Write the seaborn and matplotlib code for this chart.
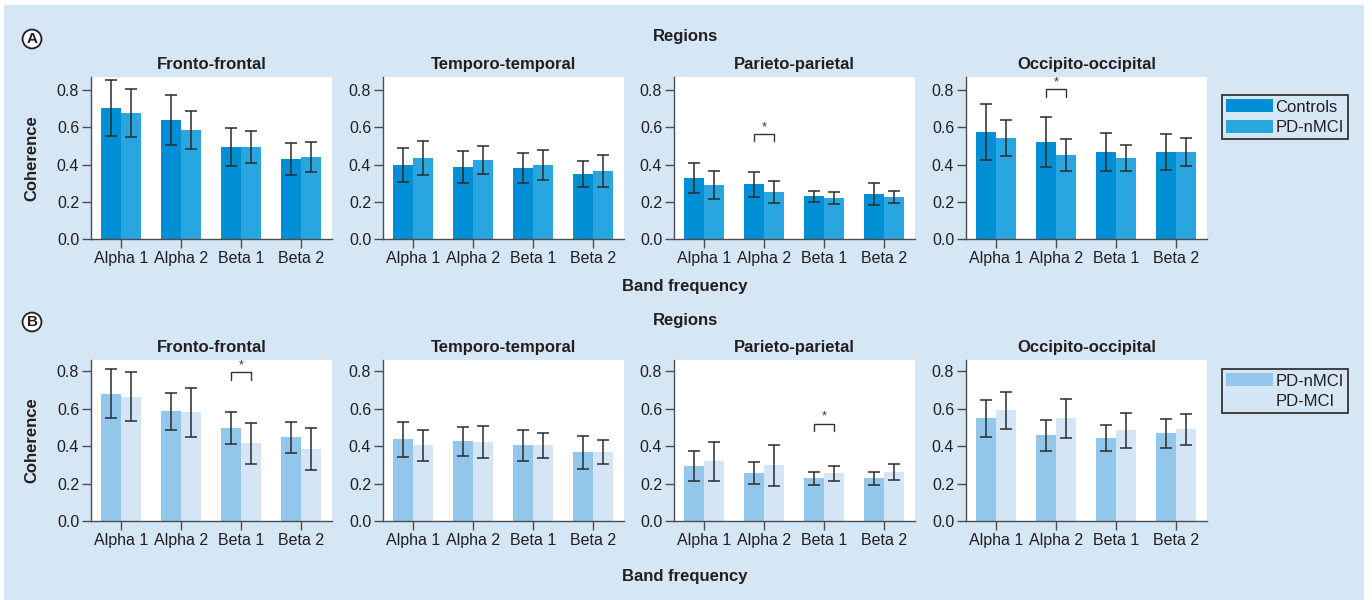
import matplotlib
matplotlib.use("Agg")
import matplotlib.pyplot as plt
from matplotlib.patches import Patch, Rectangle
import numpy as np
import pandas as pd
import seaborn as sns

# ---------------------------------------------------------------- data
bands = ["Alpha 1", "Alpha 2", "Beta 1", "Beta 2"]
regions = ["Fronto-frontal", "Temporo-temporal", "Parieto-parietal", "Occipito-occipital"]

# Panel A: Controls vs PD-nMCI (rows = regions, columns = bands)
a_groups = ["Controls", "PD-nMCI"]
a_controls_mean = [[0.703, 0.639, 0.494, 0.430],
                   [0.397, 0.387, 0.381, 0.349],
                   [0.328, 0.295, 0.229, 0.242],
                   [0.574, 0.521, 0.467, 0.467]]
a_controls_sd = [[0.152, 0.133, 0.102, 0.086],
                 [0.093, 0.085, 0.080, 0.072],
                 [0.082, 0.067, 0.030, 0.057],
                 [0.152, 0.133, 0.103, 0.098]]
a_nmci_mean = [[0.677, 0.585, 0.494, 0.440],
               [0.435, 0.424, 0.397, 0.365],
               [0.290, 0.252, 0.220, 0.226],
               [0.542, 0.451, 0.435, 0.467]]
a_nmci_sd = [[0.130, 0.100, 0.086, 0.082],
             [0.090, 0.075, 0.080, 0.088],
             [0.077, 0.061, 0.034, 0.033],
             [0.098, 0.084, 0.070, 0.077]]

# Panel B: PD-nMCI vs PD-MCI
b_groups = ["PD-nMCI", "PD-MCI"]
b_nmci_mean = [[0.681, 0.585, 0.495, 0.447],
               [0.436, 0.426, 0.404, 0.367],
               [0.293, 0.255, 0.229, 0.229],
               [0.548, 0.458, 0.442, 0.468]]
b_nmci_sd = [[0.132, 0.099, 0.085, 0.083],
             [0.092, 0.077, 0.083, 0.089],
             [0.082, 0.060, 0.035, 0.035],
             [0.100, 0.082, 0.070, 0.077]]
b_mci_mean = [[0.665, 0.580, 0.415, 0.383],
              [0.404, 0.420, 0.404, 0.367],
              [0.319, 0.298, 0.255, 0.261],
              [0.591, 0.548, 0.484, 0.490]]
b_mci_sd = [[0.130, 0.130, 0.110, 0.113],
            [0.083, 0.085, 0.068, 0.065],
            [0.105, 0.110, 0.040, 0.043],
            [0.100, 0.105, 0.093, 0.083]]

# Significant differences: (region, band, bracket height)
a_sig = [("Parieto-parietal", "Alpha 2", 0.564), ("Occipito-occipital", "Alpha 2", 0.805)]
b_sig = [("Fronto-frontal", "Beta 1", 0.795), ("Parieto-parietal", "Beta 1", 0.520)]

# ---------------------------------------------------------------- style
BG = "#d5e6f5"
INK = "#231f20"
AXC = "#4d4d4d"
a_palette = ["#008fd5", "#29a6df"]
b_palette = ["#92c6ea", "#d4e6f5"]

sns.set_theme(style="ticks")
plt.rcParams["font.family"] = ["Liberation Sans", "DejaVu Sans"]
plt.rcParams["text.color"] = INK

W, H = 1372, 600
fig = plt.figure(figsize=(W / 100, H / 100), dpi=100)
fig.patch.set_facecolor("white")
fig.add_artist(Rectangle((4 / W, 0), (1364 - 4) / W, 1 - 5 / H,
                         transform=fig.transFigure, facecolor=BG,
                         edgecolor="none", zorder=-10))

lefts = [91, 383, 674, 966]
pw = 241


def long_frame(groups, m1, s1, m2, s2, r):
    rows = []
    for g, m, s in ((groups[0], m1, s1), (groups[1], m2, s2)):
        for b, v, e in zip(bands, m[r], s[r]):
            rows.append({"band": b, "group": g, "coherence": v, "sd": e})
    return pd.DataFrame(rows)


def draw_row(top, bottom, ymax, groups, palette, m1, s1, m2, s2, sig,
             legend_y, tag, tag_y, regions_y, bandfreq_y):
    axes = []
    for r, (reg, lx) in enumerate(zip(regions, lefts)):
        ax = fig.add_axes([lx / W, 1 - bottom / H, pw / W, (bottom - top) / H])
        ax.set_facecolor("white")
        df = long_frame(groups, m1, s1, m2, s2, r)
        sns.barplot(data=df, x="band", y="coherence", hue="group",
                    order=bands, hue_order=groups, palette=palette,
                    width=0.67, saturation=1, errorbar=None, legend=False,
                    linewidth=0, ax=ax)
        centers = {}
        for cont, g in zip(ax.containers, groups):
            sub = df[df.group == g].set_index("band").loc[bands]
            for bar, b, m, s in zip(cont, bands, sub.coherence, sub.sd):
                xc = bar.get_x() + bar.get_width() / 2
                centers[(g, b)] = xc
                ax.errorbar(xc, m, yerr=s, fmt="none", ecolor="#2b2b2b",
                            elinewidth=1.1, capsize=4.2, capthick=1.1, zorder=3)
        for sreg, sband, lev in sig:
            if sreg != reg:
                continue
            x1 = centers[(groups[0], sband)]
            x2 = centers[(groups[1], sband)]
            ax.plot([x1, x1, x2, x2], [lev - 0.04, lev, lev, lev - 0.04],
                    color="#333333", lw=1.0, zorder=3)
            ax.text((x1 + x2) / 2, lev + 0.004, "*", ha="center", va="bottom",
                    fontsize=9, color="#333333")
        ax.set_xlim(-0.5, 3.52)
        ax.set_ylim(0, ymax)
        ax.set_yticks([0, 0.2, 0.4, 0.6, 0.8])
        ax.set_yticklabels(["0.0", "0.2", "0.4", "0.6", "0.8"])
        ax.set_xlabel("")
        ax.set_ylabel("")
        ax.set_title(reg, fontsize=12, fontweight="bold", pad=6, color=INK)
        sns.despine(ax=ax)
        for sp in ("left", "bottom"):
            ax.spines[sp].set_color(AXC)
            ax.spines[sp].set_linewidth(1.0)
        ax.tick_params(axis="both", direction="out", length=6.5, width=1.0,
                       color=AXC, labelsize=11.5, labelcolor=INK, pad=2)
        axes.append(ax)

    axes[0].set_ylabel("Coherence", fontsize=12, fontweight="bold", color=INK)
    axes[0].yaxis.set_label_coords(-0.215, 0.5)

    leg = axes[-1].legend(handles=[Patch(facecolor=c, edgecolor="none", label=g)
                                   for g, c in zip(groups, palette)],
                          loc="upper left", bbox_to_anchor=(1.062, legend_y),
                          borderaxespad=0, frameon=True, fancybox=False,
                          edgecolor="#333333", facecolor=BG, framealpha=1,
                          fontsize=12, handlelength=2.8, handleheight=0.85,
                          handletextpad=0.15, borderpad=0.25, labelspacing=0.3)
    leg.get_frame().set_linewidth(1.3)

    fig.text(685 / W, 1 - regions_y / H, "Regions", ha="center", va="center",
             fontsize=12, fontweight="bold")
    fig.text(685 / W, 1 - bandfreq_y / H, "Band frequency", ha="center",
             va="center", fontsize=12, fontweight="bold")
    fig.text(32 / W, 1 - tag_y / H, tag, ha="center", va="center",
             fontsize=11, fontweight="bold",
             bbox=dict(boxstyle="circle,pad=0.16", fc="white", ec=INK, lw=1.3))


draw_row(77, 239, 0.87, a_groups, a_palette,
         a_controls_mean, a_controls_sd, a_nmci_mean, a_nmci_sd, a_sig,
         legend_y=0.889, tag="A", tag_y=39, regions_y=37, bandfreq_y=287)
draw_row(360, 521, 0.86, b_groups, b_palette,
         b_nmci_mean, b_nmci_sd, b_mci_mean, b_mci_sd, b_sig,
         legend_y=0.944, tag="B", tag_y=322, regions_y=320, bandfreq_y=577)

fig.savefig("out.png", dpi=100, facecolor=fig.get_facecolor())
